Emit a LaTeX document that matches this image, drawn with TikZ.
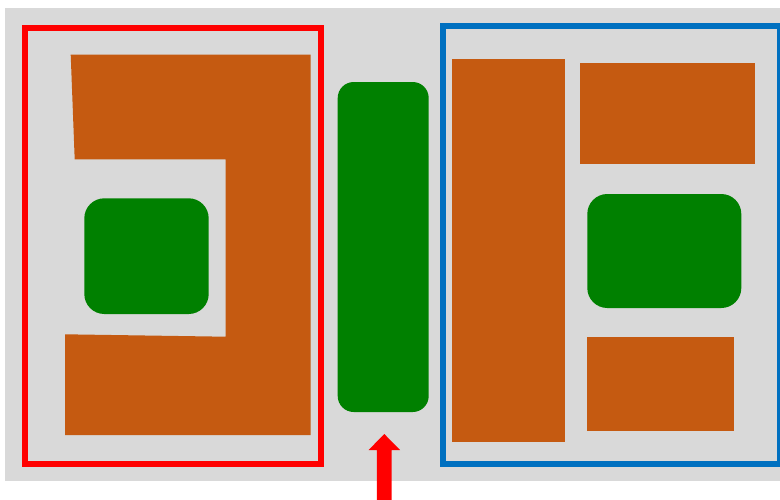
\documentclass[tikz,border=0pt]{standalone}
\usepackage{tikz}
\definecolor{bggray}{HTML}{D9D9D9}
\definecolor{rust}{HTML}{C55A11}
\definecolor{leaf}{HTML}{008000}
\definecolor{boxblue}{HTML}{0070C0}
\tikzset{
    part/.style={fill=rust},
    pad/.style={fill=leaf, rounded corners=#1},
    pad/.default=16pt,
    frame/.style={draw=#1, line width=6pt}
}
\begin{document}
\begin{tikzpicture}[x=1pt, y=-1pt]
    \useasboundingbox (0,0) rectangle (780,499);
    %background
    \fill[bggray] (5.3,8.3) rectangle (790,481);

    %left group
    \fill[part] (70.7,54.5) -- (310.5,54.5) -- (310.5,435) -- (65,435) -- (65,334.3) -- (225.7,336.7) -- (225.7,159.3) -- (74.7,159.3) -- cycle;
    \fill[pad=20pt] (84.3,198.3) rectangle (208.7,314);
    \draw[frame=red] (24.9,27.7) rectangle (320.7,464.3);

    %middle
    \fill[pad] (337.7,82) rectangle (428.7,412);

    %right group
    \fill[part] (452,59) rectangle (564.7,441.7);
    \fill[part] (579.7,63) rectangle (755,163.7);
    \fill[pad=20pt] (587.3,194) rectangle (741.3,308);
    \fill[part] (587.3,337) rectangle (733.7,431.3);
    \draw[frame=boxblue] (443.2,26) rectangle (780.4,464.3);

    %arrow
    \fill[red] (384.3,434) -- (400,450) -- (391.7,450) -- (391.7,505) -- (376.8,505) -- (376.8,450) -- (368.6,450) -- cycle;
\end{tikzpicture}
\end{document}
